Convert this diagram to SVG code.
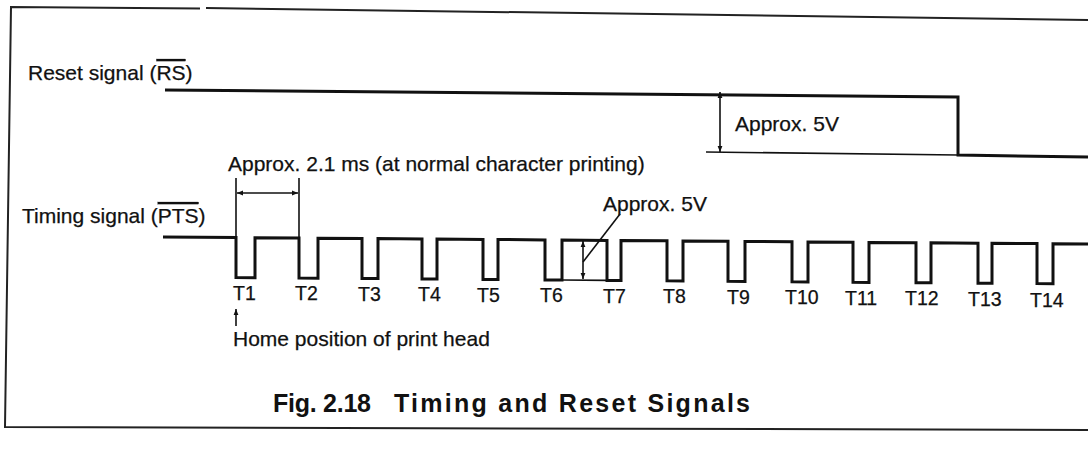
<svg xmlns="http://www.w3.org/2000/svg" width="1088" height="458" viewBox="0 0 1088 458">
<style>
.t{font-family:"Liberation Sans",Arial,sans-serif;font-size:21px;fill:#111;stroke:#111;stroke-width:0.25}
.lbl{font-size:19.5px}
.cap{font-weight:bold;font-size:25px;stroke-width:0}
.wave{fill:none;stroke:#111;stroke-width:3;stroke-linejoin:miter}
.frame{fill:none;stroke:#222;stroke-width:2}
.dim{fill:none;stroke:#111;stroke-width:1.6}
.ol{text-decoration:overline}
</style>
<defs>
<marker id="ah" viewBox="0 0 10 10" refX="10" refY="5" markerWidth="9" markerHeight="6" markerUnits="userSpaceOnUse" orient="auto-start-reverse">
<path d="M0,1 L10,5 L0,9 z" fill="#111"/>
</marker>
</defs>
<rect width="1088" height="458" fill="#fff"/>
<g id="frame">
<polyline class="frame" points="200,8.5 11,7 5,427 1088,430"/>
<line class="frame" x1="206" y1="8" x2="1088" y2="20"/>
</g>
<g id="reset-signal">
<text class="t" x="28" y="80">Reset signal (<tspan class="ol">RS</tspan>)</text>
<polyline class="wave" points="165,90 958,97 958,155 1088,157"/>
<line class="dim" x1="706" y1="152" x2="958" y2="155"/>
<text class="t" x="735" y="131">Approx. 5V</text>
</g>
<g id="timing-signal">
<text class="t" x="22" y="223">Timing signal (<tspan class="ol">PTS</tspan>)</text>
<polyline class="wave" points="163,237 236,237.5 236,277.5 255,277.7 255,237.7 299,238 299,278 318,278.2 318,238.2 362,238.5 362,278.5 378,278.6 378,238.6 422,239 422,279 437,279.1 437,239.1 483,239.4 483,279.4 498,279.5 498,239.5 545,239.9 545,279.9 562,280 562,240 607,240.4 607,280.4 621,280.5 621,240.5 667,240.8 667,280.8 683,281 683,241 728,241.3 728,281.3 745,281.4 745,241.4 792,241.8 792,281.8 808,281.9 808,241.9 853,242.2 853,282.2 869,282.4 869,242.4 916,242.7 916,282.7 931,282.8 931,242.8 978,243.2 978,283.2 992,283.3 992,243.3 1037,243.6 1037,283.6 1053,283.8 1053,243.8 1088,244"/>
<line class="dim" x1="562" y1="280" x2="607" y2="280.4"/>
<text class="t" x="228" y="171">Approx. 2.1 ms (at normal character printing)</text>
<text class="t" x="603" y="211">Approx. 5V</text>
</g>
<g id="pulse-labels">
<text class="t lbl" x="233" y="300">T1</text>
<text class="t lbl" x="295" y="300">T2</text>
<text class="t lbl" x="358" y="301">T3</text>
<text class="t lbl" x="418" y="301">T4</text>
<text class="t lbl" x="477" y="302">T5</text>
<text class="t lbl" x="540" y="302">T6</text>
<text class="t lbl" x="603" y="303">T7</text>
<text class="t lbl" x="663" y="303">T8</text>
<text class="t lbl" x="727" y="304">T9</text>
<text class="t lbl" x="785" y="304">T10</text>
<text class="t lbl" x="845" y="305">T11</text>
<text class="t lbl" x="905" y="305">T12</text>
<text class="t lbl" x="968" y="306">T13</text>
<text class="t lbl" x="1030" y="307">T14</text>
</g>
<g id="home-note">
<text class="t" x="233" y="346">Home position of print head</text>
</g>
<g id="connectors">
<line class="dim" x1="236" y1="178" x2="236" y2="236"/>
<line class="dim" x1="299" y1="178" x2="299" y2="237"/>
<line class="dim" x1="237" y1="193" x2="298" y2="193" marker-start="url(#ah)" marker-end="url(#ah)"/>
<line class="dim" x1="720" y1="92" x2="720" y2="152" marker-start="url(#ah)" marker-end="url(#ah)"/>
<line class="dim" x1="583" y1="241" x2="583" y2="279" marker-start="url(#ah)" marker-end="url(#ah)"/>
<line class="dim" x1="583" y1="262" x2="620" y2="214"/>
<line class="dim" x1="236" y1="326" x2="236" y2="309" marker-end="url(#ah)"/>
</g>
<g id="caption">
<text class="t cap" x="273" y="412" textLength="98" lengthAdjust="spacing">Fig. 2.18</text>
<text class="t cap" x="394" y="412" textLength="356" lengthAdjust="spacing">Timing and Reset Signals</text>
</g>
</svg>
